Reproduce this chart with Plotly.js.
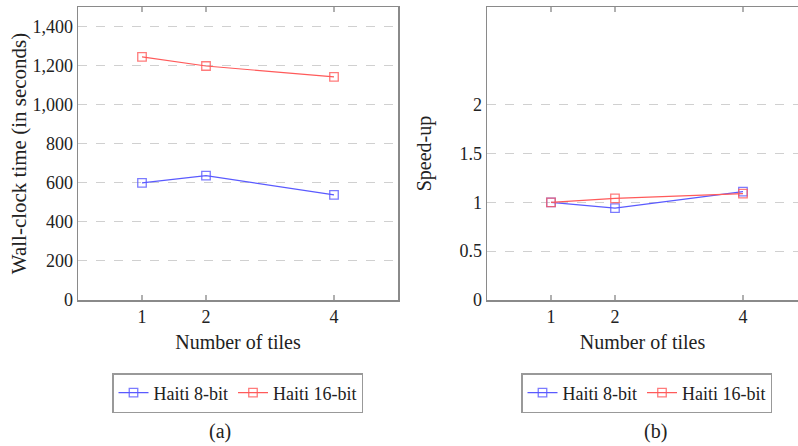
<!DOCTYPE html>
<html><head><meta charset="utf-8">
<script src="https://cdn.plot.ly/plotly-3.0.1.min.js"></script>
<style>html,body{margin:0;padding:0;background:#fff}#c{width:798px;height:446px}</style>
</head><body><div id="c"></div>
<script>
const tiles = [1, 2, 4];
const timeHaiti8 = [600, 637, 538];
const timeHaiti16 = [1245, 1198, 1142];
const speedHaiti8 = [1.0, 0.94, 1.11];
const speedHaiti16 = [1.0, 1.04, 1.09];
const seriesNames = ['Haiti 8-bit', 'Haiti 16-bit'];
const yTicksTime = [0, 200, 400, 600, 800, 1000, 1200, 1400];
const yTicksSpeed = [0, 0.5, 1, 1.5, 2];

const BLUE = '#5a5aff', RED = '#ff5a5a';
const FONT = 'Liberation Serif';
function tr(y, name, color, xa, ya, legend, show) {
  return {x: tiles, y: y, name: name, type: 'scatter', mode: 'lines+markers',
    xaxis: xa, yaxis: ya, legend: legend, showlegend: show,
    line: {color: color, width: 1.2},
    marker: {symbol: 'square-open', size: 8.5, color: color, opacity: 0.8, line: {width: 1.3}}};
}
const data = [
  tr(timeHaiti8, seriesNames[0], BLUE, 'x', 'y', 'legend', true),
  tr(timeHaiti16, seriesNames[1], RED, 'x', 'y', 'legend', true),
  tr(speedHaiti8, seriesNames[0], BLUE, 'x2', 'y2', 'legend2', true),
  tr(speedHaiti16, seriesNames[1], RED, 'x2', 'y2', 'legend2', true)
];
const W = 798, H = 446;
const yd = [1 - 300 / H, 1 - 7 / H];
function axisCommon() {
  return {showline: true, linecolor: '#8a8a8a', linewidth: 1.5, ticks: 'inside',
    ticklen: 5, tickcolor: '#b0b0b0', tickwidth: 1.2,
    tickfont: {family: FONT, size: 18, color: '#222'},
    zeroline: false, automargin: false, fixedrange: true};
}
function xax(domain, range, mirror) {
  return Object.assign(axisCommon(), {domain: domain, range: range, tickvals: tiles,
    ticktext: tiles.map(String), showgrid: false, mirror: mirror,
    title: {text: 'Number of tiles', font: {family: FONT, size: 20, color: '#222'}, standoff: 9}});
}
function legendCfg(x) {
  return {orientation: 'h', x: x / W, xanchor: 'left', y: 1 - 373 / H, yanchor: 'top',
    bordercolor: '#999', borderwidth: 1.5, font: {family: FONT, size: 18, color: '#222'},
    tracegroupgap: 0, itemwidth: 30};
}
const layout = {
  width: W, height: H, margin: {l: 0, r: 0, t: 0, b: 0},
  paper_bgcolor: '#fff', plot_bgcolor: '#fff',
  font: {family: FONT, color: '#222'},
  xaxis: xax([78 / W, 398 / W], [0, 5], 'allticks'),
  xaxis2: Object.assign(xax([487 / W, 1], [0, 4.86], 'allticks'), {anchor: 'y2'}),
  yaxis: Object.assign(axisCommon(), {domain: yd, range: [0, 1500], tickvals: yTicksTime,
    tickformat: ',', showgrid: true, gridcolor: '#d0d0d0', griddash: 'dash', gridwidth: 1,
    ticks: '', mirror: true,
    title: {text: 'Wall-clock time (in seconds)', font: {family: FONT, size: 21, color: '#222'}, standoff: 0}}),
  yaxis2: Object.assign(axisCommon(), {domain: yd, range: [0, 3], tickvals: yTicksSpeed,
    anchor: 'x2', showgrid: true, gridcolor: '#d0d0d0', griddash: 'dash', gridwidth: 1,
    ticks: '', mirror: false,
    title: {text: 'Speed-up', font: {family: FONT, size: 20, color: '#222'}, standoff: 22}}),
  legend: legendCfg(112),
  legend2: legendCfg(521),
  annotations: [
    {text: '(a)', x: 220 / W, y: 1 - 431 / H, xref: 'paper', yref: 'paper', showarrow: false,
      font: {family: FONT, size: 20, color: '#222'}, xanchor: 'center', yanchor: 'middle'},
    {text: '(b)', x: 655 / W, y: 1 - 431 / H, xref: 'paper', yref: 'paper', showarrow: false,
      font: {family: FONT, size: 20, color: '#222'}, xanchor: 'center', yanchor: 'middle'}
  ]
};
Plotly.newPlot('c', data, layout, {staticPlot: true, displayModeBar: false});
</script></body></html>
